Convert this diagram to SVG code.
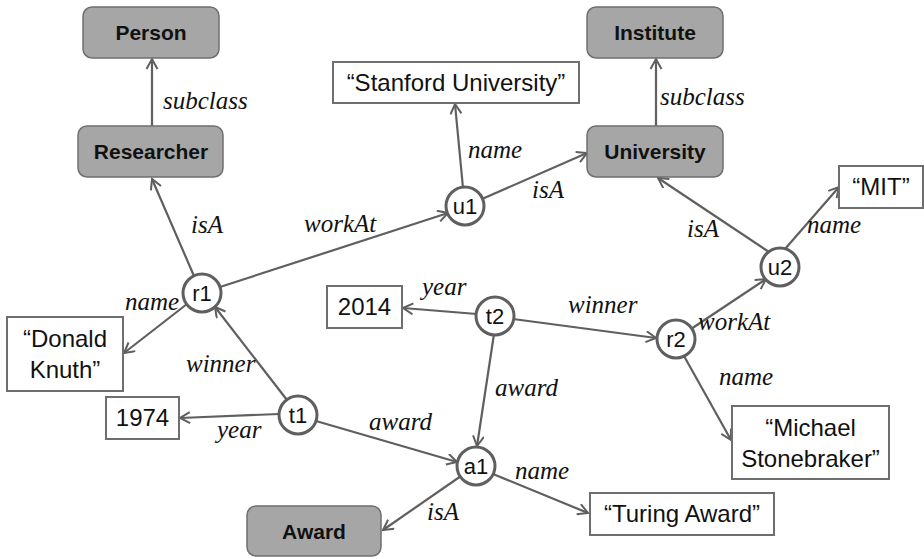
<svg xmlns="http://www.w3.org/2000/svg" width="924" height="559" viewBox="0 0 924 559">
<defs>
<marker id="arr" markerWidth="14" markerHeight="14" refX="11" refY="6" orient="auto" markerUnits="userSpaceOnUse">
<path d="M1,0.5 L11,6 L1,11.5" fill="none" stroke="#5f5f5f" stroke-width="2"/>
</marker>
<style>
.cls rect{fill:#a6a6a6;stroke:#6f6f6f;stroke-width:1.5}
.cls text{font-family:"Liberation Sans",Arial,sans-serif;font-weight:bold;font-size:21px;fill:#111;text-anchor:middle}
.lit rect{fill:#fff;stroke:#6f6f6f;stroke-width:2}
.lit text{font-family:"Liberation Sans",Arial,sans-serif;font-size:24px;fill:#111;text-anchor:middle}
.ent circle{fill:#fff;stroke:#5f5f5f;stroke-width:3}
.ent text{font-family:"Liberation Sans",Arial,sans-serif;font-size:22px;fill:#111;text-anchor:middle}
.edges path{fill:none;stroke:#5f5f5f;stroke-width:2.2;marker-end:url(#arr)}
.lbl{font-family:'Liberation Serif','DejaVu Serif','Times New Roman',serif;font-style:italic;font-size:25px;fill:#111}
</style>
</defs>
<rect width="924" height="559" fill="#fff"/>
<g class="edges" id="connectors">
<path d="M152,126 L152,59"/>
<path d="M194,276 L152,179"/>
<path d="M220,287 L448,213"/>
<path d="M463,188 L455,104"/>
<path d="M482,199 L587,153"/>
<path d="M769,252 L658,178"/>
<path d="M785,249 L839,187"/>
<path d="M691,329 L766,279"/>
<path d="M477,314 L403,308"/>
<path d="M513,319 L656,338"/>
<path d="M494,334 L477,446"/>
<path d="M684,356 L731,440"/>
<path d="M287,400 L215,307"/>
<path d="M279,414 L180,418"/>
<path d="M316,421 L457,462"/>
<path d="M461,476 L383,530"/>
<path d="M493,474 L588,513"/>
<path d="M187,304 L124,353"/>
<path d="M656,126 L656,59"/>
</g>
<g id="edge-labels">
<text class="lbl" x="163" y="109">subclass</text>
<text class="lbl" x="660" y="105">subclass</text>
<text class="lbl" x="191" y="233">isA</text>
<text class="lbl" x="304" y="232">workAt</text>
<text class="lbl" x="468" y="158">name</text>
<text class="lbl" x="532" y="198">isA</text>
<text class="lbl" x="687" y="237">isA</text>
<text class="lbl" x="807" y="233">name</text>
<text class="lbl" x="125" y="310">name</text>
<text class="lbl" x="422" y="295">year</text>
<text class="lbl" x="568" y="313">winner</text>
<text class="lbl" x="495" y="396">award</text>
<text class="lbl" x="698" y="330">workAt</text>
<text class="lbl" x="719" y="385">name</text>
<text class="lbl" x="186" y="372">winner</text>
<text class="lbl" x="217" y="438">year</text>
<text class="lbl" x="369" y="430">award</text>
<text class="lbl" x="515" y="479">name</text>
<text class="lbl" x="427" y="520">isA</text>
</g>
<g id="person" class="cls"><rect x="83" y="7" width="136" height="51" rx="9"/><text x="151" y="40">Person</text></g>
<g id="researcher" class="cls"><rect x="78" y="126" width="145" height="51" rx="9"/><text x="151" y="159">Researcher</text></g>
<g id="institute" class="cls"><rect x="587" y="7" width="136" height="51" rx="9"/><text x="655" y="40">Institute</text></g>
<g id="university" class="cls"><rect x="587" y="126" width="136" height="51" rx="9"/><text x="655" y="159">University</text></g>
<g id="award" class="cls"><rect x="247" y="506" width="134" height="50" rx="9"/><text x="314" y="539">Award</text></g>
<g id="stanford" class="lit"><rect x="333" y="62" width="246" height="41"/><text x="456" y="91">“Stanford University”</text></g>
<g id="mit" class="lit"><rect x="839" y="166" width="84" height="42"/><text x="881" y="195">“MIT”</text></g>
<g id="knuth" class="lit"><rect x="7" y="317" width="116" height="74"/><text x="65" y="347">“Donald</text><text x="65" y="378">Knuth”</text></g>
<g id="y1974" class="lit"><rect x="106" y="397" width="73" height="42"/><text x="142.5" y="426">1974</text></g>
<g id="y2014" class="lit"><rect x="327" y="286" width="75" height="42"/><text x="364.5" y="315">2014</text></g>
<g id="stonebraker" class="lit"><rect x="732" y="406" width="157" height="73"/><text x="810.5" y="436">“Michael</text><text x="810.5" y="467">Stonebraker”</text></g>
<g id="turing" class="lit"><rect x="590" y="493" width="184" height="42"/><text x="682" y="522">“Turing Award”</text></g>
<g id="r1" class="ent"><circle cx="202" cy="293" r="19"/><text x="202" y="301">r1</text></g>
<g id="u1" class="ent"><circle cx="465" cy="206" r="19"/><text x="465" y="214">u1</text></g>
<g id="u2" class="ent"><circle cx="780" cy="267" r="19"/><text x="780" y="275">u2</text></g>
<g id="t1" class="ent"><circle cx="298" cy="415" r="19"/><text x="298" y="423">t1</text></g>
<g id="t2" class="ent"><circle cx="495" cy="316" r="19"/><text x="495" y="324">t2</text></g>
<g id="r2" class="ent"><circle cx="676" cy="339" r="19"/><text x="676" y="347">r2</text></g>
<g id="a1" class="ent"><circle cx="476" cy="466" r="19"/><text x="476" y="474">a1</text></g>
</svg>
